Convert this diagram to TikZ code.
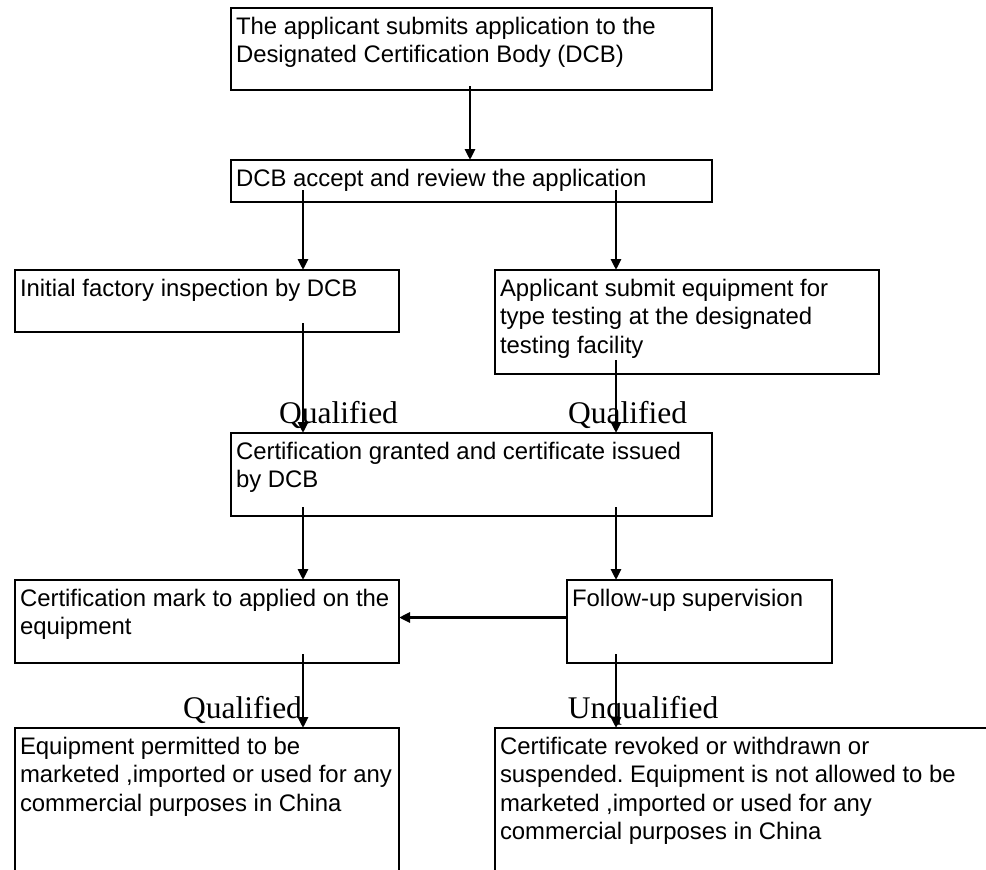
\documentclass[tikz,border=0pt]{standalone}
\usepackage{fontspec}
\newfontfamily\sansface{Liberation Sans}
\newfontfamily\serifface{Liberation Serif}
\usetikzlibrary{arrows.meta,calc}
\begin{document}
\frenchspacing
\begin{tikzpicture}[x=1pt, y=-1pt, >={Triangle[length=11pt,width=10pt]}]
	\tikzset{
		stage/.style={draw, line width=2.3pt, anchor=north west, outer sep=0pt, inner xsep=5pt, inner ysep=6.5pt, font=\fontsize{23.9}{28.5}\selectfont\sansface},
		verdict/.style={anchor=base, inner sep=0pt, font=\fontsize{31.5}{36}\selectfont\serifface},
		flow/.style={->, line width=2.8pt}
	}
	\def\txt#1#2#3{\parbox[t][#2pt][t]{#1pt}{\begin{tabular}[t]{@{}l@{}}#3\end{tabular}}}
	\useasboundingbox (0,0) rectangle (986,870);
	\clip (0,0) rectangle (986,870);
	\coordinate (lcol) at (303,0);
	\coordinate (mcol) at (470,0);
	\coordinate (rcol) at (616,0);
	\node[stage] (apply) at (231,8) {\txt{471}{69}{The applicant submits application to the\\Designated Certification Body (DCB)}};
	\node[stage] (review) at (231,160) {\txt{471}{29}{DCB accept and review the application}};
	\node[stage] (inspect) at (15,270) {\txt{374}{49}{Initial factory inspection by DCB}};
	\node[stage] (typetest) at (495,270) {\txt{374}{91}{Applicant submit equipment for\\type testing at the designated\\testing facility}};
	\node[stage] (granted) at (231,433) {\txt{471}{70}{Certification granted and certificate issued\\by DCB}};
	\node[stage] (mark) at (15,580) {\txt{374}{70}{Certification mark to applied on the\\equipment}};
	\node[stage] (follow) at (567,580) {\txt{255}{70}{Follow-up supervision}};
	\node[stage] (market) at (15,728) {\txt{374}{187}{Equipment permitted to be\\marketed ,imported or used for any\\commercial purposes in China}};
	\node[stage] (revoke) at (495,728) {\txt{590}{187}{Certificate revoked or withdrawn or\\suspended. Equipment is not allowed to be\\marketed ,imported or used for any\\commercial purposes in China}};
	\node[verdict] (qinspect) at (338.5,423) {Qualified};
	\node[verdict] (qtest) at (627.5,423) {Qualified};
	\node[verdict] (qmark) at (242.5,718) {Qualified};
	\node[verdict] (uqfollow) at (643,718) {Unqualified};
	\draw[flow] ($(apply.south -| mcol)+(0,-4)$) -- (review.north -| mcol);
	\draw[flow] ($(review.south -| lcol)+(0,-12)$) -- (inspect.north -| lcol);
	\draw[flow] ($(review.south -| rcol)+(0,-12)$) -- (typetest.north -| rcol);
	\draw[flow] ($(inspect.south -| lcol)+(0,-9)$) -- (granted.north -| lcol);
	\draw[flow] ($(typetest.south -| rcol)+(0,-14)$) -- (granted.north -| rcol);
	\draw[flow] ($(granted.south -| lcol)+(0,-9)$) -- (mark.north -| lcol);
	\draw[flow] ($(granted.south -| rcol)+(0,-9)$) -- (follow.north -| rcol);
	\draw[flow] ($(follow.west)+(0,-4)$) coordinate (fu) -- (fu -| mark.east);
	\draw[flow] ($(mark.south -| lcol)+(0,-9)$) -- (market.north -| lcol);
	\draw[flow] ($(follow.south -| rcol)+(0,-9)$) -- (revoke.north -| rcol);
\end{tikzpicture}
\end{document}
